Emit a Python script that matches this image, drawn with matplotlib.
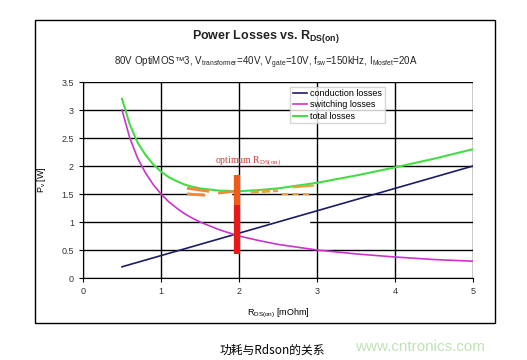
import matplotlib
matplotlib.use("Agg")
import matplotlib.pyplot as plt
from matplotlib.patches import Rectangle

# data
rds = [0.5, 0.6, 0.7, 0.8, 0.9, 1.0, 1.1, 1.2, 1.3, 1.4, 1.5, 1.75, 2.0,
       2.25, 2.5, 2.75, 3.0, 3.5, 4.0, 4.5, 5.0]
conduction = [0.2, 0.24, 0.28, 0.32, 0.36, 0.4, 0.44, 0.48, 0.52, 0.56, 0.6,
              0.7, 0.8, 0.9, 1.0, 1.1, 1.2, 1.4, 1.6, 1.8, 2.0]
switching = [3.0, 2.5, 2.14, 1.88, 1.67, 1.5, 1.36, 1.25, 1.15, 1.07, 1.0,
             0.86, 0.75, 0.67, 0.6, 0.55, 0.5, 0.43, 0.375, 0.33, 0.3]
total = [3.2, 2.74, 2.42, 2.2, 2.03, 1.9, 1.8, 1.73, 1.67, 1.63, 1.6,
         1.56, 1.55, 1.57, 1.6, 1.65, 1.7, 1.83, 1.975, 2.13, 2.3]
xticks = [0, 1, 2, 3, 4, 5]
yticks = [0, 0.5, 1, 1.5, 2, 2.5, 3, 3.5]
ytick_labels = ["0", "0.5", "1", "1.5", "2", "2.5", "3", "3.5"]

plt.rcParams['font.family'] = ['Liberation Sans', 'DejaVu Sans']
plt.rcParams['mathtext.default'] = 'regular'

fig = plt.figure(figsize=(5.27, 3.6), dpi=100)
fig.patch.set_facecolor("white")

# outer chart frame
fig.patches.append(Rectangle((35/527, 1-323/360), 460/527, 303/360,
                             transform=fig.transFigure, fill=False,
                             edgecolor="black", linewidth=1.0))

ax = fig.add_axes([83/527, 1-278/360, 390/527, 196/360])
ax.plot(rds, conduction, color="#1c1c64", lw=1.2, label="conduction losses")
ax.plot(rds, switching, color="#cc33cc", lw=1.2, label="switching losses")
ax.plot(rds, total, color="#44dd44", lw=1.5, label="total losses")

ax.set_xlim(0, 5)
ax.set_ylim(0, 3.5)
ax.set_xticks(xticks)
ax.set_yticks(yticks)
ax.set_yticklabels(ytick_labels)
ax.grid(True, color="black", lw=1.0)
ax.set_axisbelow(True)
for s in ["top", "right"]:
    ax.spines[s].set_visible(False)
ax.tick_params(labelsize=6.5, labelcolor="#333333", length=3, width=0.8)

# hand-drawn markings (erased grid bits, orange scribbles, red bar)
ax.add_patch(Rectangle((1.55, 1.47), 0.35, 0.06, color="white", zorder=1.5))
ax.add_patch(Rectangle((1.6, 1.15), 0.3, 0.2, color="white", zorder=1.5))
ax.add_patch(Rectangle((2.4, 0.97), 0.5, 0.06, color="white", zorder=1.5))
ax.plot([1.97, 1.97], [0.42, 1.3], color="#e51a1a", lw=4.5, solid_capstyle="butt", zorder=3)
ax.plot([1.97, 1.97], [1.3, 1.84], color="#f05a1a", lw=4.5, solid_capstyle="butt", zorder=3)
ax.plot([1.35, 1.6], [1.6, 1.55], color="#f08a3a", lw=2)
ax.plot([1.35, 1.55], [1.5, 1.48], color="#f08a3a", lw=2)
ax.plot([1.75, 1.95], [1.52, 1.55], color="#f08a3a", lw=2)
ax.plot([2.15, 2.5], [1.53, 1.56], color="#e8a040", lw=2, ls=(0, (3, 1)))
ax.plot([2.55, 2.95], [1.5, 1.5], color="#e8a040", lw=1.5, ls=(0, (3, 2)))
ax.plot([2.7, 2.95], [1.62, 1.65], color="#e8a040", lw=1.5)
ax.text(2.12, 1.96, "optimum R$_{DS(on)}$", color="#d23a3a", fontsize=7,
        family="Liberation Serif", ha="center", va="bottom")

ax.legend(loc="upper left", bbox_to_anchor=(0.52, 1.0), fontsize=6.5,
          frameon=True, fancybox=False, edgecolor="#cccccc",
          handlelength=1.6, handletextpad=0.3, borderpad=0.3,
          labelspacing=0.25)

ax.set_xlabel("R$_{DS(on)}$ [mOhm]", fontsize=6.5, labelpad=8)
ax.set_ylabel("P$_v$ [W]", fontsize=6.5, labelpad=10)

fig.text(266/527, 1-37/360, "Power Losses vs. R$_{DS(on)}$", ha="center",
         va="center", fontsize=9, fontweight="bold", color="#222222")
fig.text(266/527, 1-63/360,
         "80V OptiMOS™3, V$_{transformer}$=40V, V$_{gate}$=10V, f$_{sw}$=150kHz, I$_{Mosfet}$=20A",
         ha="center", va="center", fontsize=7, color="#222222")

fig.text(272/527, 1-350/360, "功耗与Rdson的关系", ha="center", va="center",
         fontsize=8.5, family=["Noto Sans CJK SC", "DejaVu Sans"])
fig.text(420/527, 1-347/360, "www.cntronics.com", ha="center", va="center",
         fontsize=11, color="#bfe3b4")

fig.savefig("out.png", dpi=100)
